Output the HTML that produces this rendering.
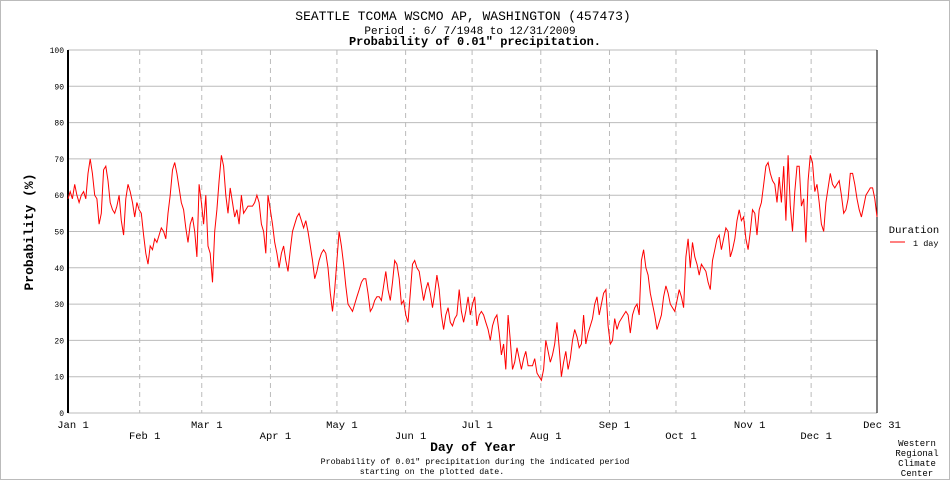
<!DOCTYPE html>
<html><head><meta charset="utf-8"><style>
body{margin:0;background:#fff;}
svg text{font-family:"Liberation Mono","DejaVu Sans Mono",monospace;}
</style></head><body>
<svg id="chart" width="950" height="480" viewBox="0 0 950 480" xmlns="http://www.w3.org/2000/svg">
<rect x="0.5" y="0.5" width="949" height="479" fill="#fff" stroke="#bbb"/>
<text x="463" y="20" text-anchor="middle" font-size="13">SEATTLE TCOMA WSCMO AP, WASHINGTON   (457473)</text>
<text x="470" y="34" text-anchor="middle" font-size="11">Period : 6/ 7/1948 to 12/31/2009</text>
<text x="475" y="45" text-anchor="middle" font-size="12" font-weight="bold">Probability of 0.01" precipitation.</text>
<g id="grid"></g>
<g id="axes"></g>
<polyline id="series" fill="none" stroke="#f00" stroke-width="1"/>
<text transform="translate(33,232) rotate(-90)" text-anchor="middle" font-size="13" font-weight="bold">Probability (%)</text>
<text x="473" y="451" text-anchor="middle" font-size="13" font-weight="bold">Day of Year</text>
<text x="475" y="464" text-anchor="middle" font-size="8.3">Probability of 0.01" precipitation during the indicated period</text>
<text x="432" y="474" text-anchor="middle" font-size="8.3">starting on the plotted date.</text>
<g font-size="9" text-anchor="middle">
<text x="917" y="446">Western</text><text x="917" y="456">Regional</text><text x="917" y="466">Climate</text><text x="917" y="476">Center</text></g>
<g>
<text x="914" y="233" text-anchor="middle" font-size="10.5">Duration</text>
<line x1="890" y1="242" x2="905" y2="242" stroke="#f00"/>
<text x="913" y="246" font-size="8.5">1 day</text></g>
</svg>
<script>
const jan=[59,61,59,63,60,58,60,61,59,66,70,66,60,59,52,55,67,68,64,58,56,55,57,60,53,49,59,63,61,58,54];
const feb=[58,56,55,49,44,41,46,45,48,47,49,51,50,48,55,60,67,69,66,62,58,56,51,47,52,54,50,43];
const mar=[63,58,52,60,46,44,36,50,56,64,71,68,60,55,62,58,54,56,52,60,55,56,57,57,57,58,60,58,52,50,44];
const apr=[60,56,52,47,44,40,44,46,42,39,45,50,52,54,55,53,51,53,50,46,42,37,39,42,44,45,44,40,33,28];
const may=[34,42,50,46,41,35,30,29,28,30,32,34,36,37,37,33,28,29,31,32,32,31,35,39,34,31,36,42,41,37,30];
const jun=[31,27,25,33,41,42,40,39,35,31,34,36,33,29,33,38,34,27,23,27,29,25,24,26,27,34,28,25,28,32];
const jul=[27,30,32,24,27,28,27,25,23,20,24,26,27,22,16,19,12,27,20,12,14,18,15,12,15,17,13,13,13,15,11];
const aug=[10,9,12,20,17,14,16,19,25,18,10,14,17,12,15,20,23,21,18,19,27,19,22,24,26,30,32,27,30,33,34];
const sep=[24,19,20,26,23,25,26,27,28,27,22,27,29,30,27,42,45,40,38,33,30,27,23,25,27,32,35,33,30,29];
const oct=[28,31,34,32,29,43,48,40,47,43,41,38,41,40,39,36,34,42,45,48,49,45,48,51,50,43,45,48,53,56,53];
const nov=[54,48,45,50,56,55,49,56,58,63,68,69,66,64,63,58,65,58,68,53,71,57,50,61,68,68,57,59,47,64];
const dec=[71,69,61,63,58,52,50,58,62,66,63,62,63,64,60,55,56,59,66,66,63,59,56,54,57,60,61,62,62,59,54];
const monthLabels=["Jan 1","Feb 1","Mar 1","Apr 1","May 1","Jun 1","Jul 1","Aug 1","Sep 1","Oct 1","Nov 1","Dec 1","Dec 31"];
const monthDays=[0,31,59,90,120,151,181,212,243,273,304,334,364];
const yTicks=[0,10,20,30,40,50,60,70,80,90,100];
const values=[].concat(jan,feb,mar,apr,may,jun,jul,aug,sep,oct,nov,dec);

const NS="http://www.w3.org/2000/svg";
const X0=68,X1=877,Y0=413,Y1=50;
function xDay(d){return X0+d*(X1-X0)/364;}
function xTick(d){return d===0?X0:(d===364?X1:71+d*2.216);}
function yv(v){return Y0-(v/100)*(Y0-Y1);}
function mk(tag,attrs,parent){const e=document.createElementNS(NS,tag);for(const k in attrs)e.setAttribute(k,attrs[k]);parent.appendChild(e);return e;}
const grid=document.getElementById('grid'),axes=document.getElementById('axes');
yTicks.forEach(t=>{
  const l=mk('line',{x1:X0,x2:X1,y1:yv(t),y2:yv(t),stroke:'#bbb'},grid);
  
  
  const tx=mk('text',{x:X0-4,y:yv(t)+3,'text-anchor':'end','font-size':'8'},axes);
  tx.textContent=t;
  
  
});
monthDays.forEach((d,i)=>{
  const x=xTick(d);
  if(i>0&&i<monthDays.length-1){
    const l=mk('line',{x1:x,x2:x,y1:Y1,y2:Y0,stroke:'#bbb','stroke-dasharray':'5,4'},grid);
    
    
  }
  const tx=mk('text',{x:x+5,y:(i%2===0)?428:439,'text-anchor':'middle','font-size':'10.5'},axes);
  tx.textContent=monthLabels[i];
  
  
});
const ax=mk('line',{x1:X0,x2:X0,y1:Y1,y2:Y0,stroke:'#000','stroke-width':'2'},axes);


const rx=mk('line',{x1:X1,x2:X1,y1:Y1,y2:Y0,stroke:'#000','stroke-width':'1'},axes);


document.getElementById('series').setAttribute('points',values.map((v,i)=>xDay(i*364/(values.length-1)).toFixed(1)+','+yv(v).toFixed(1)).join(' '));
</script>
</body></html>
